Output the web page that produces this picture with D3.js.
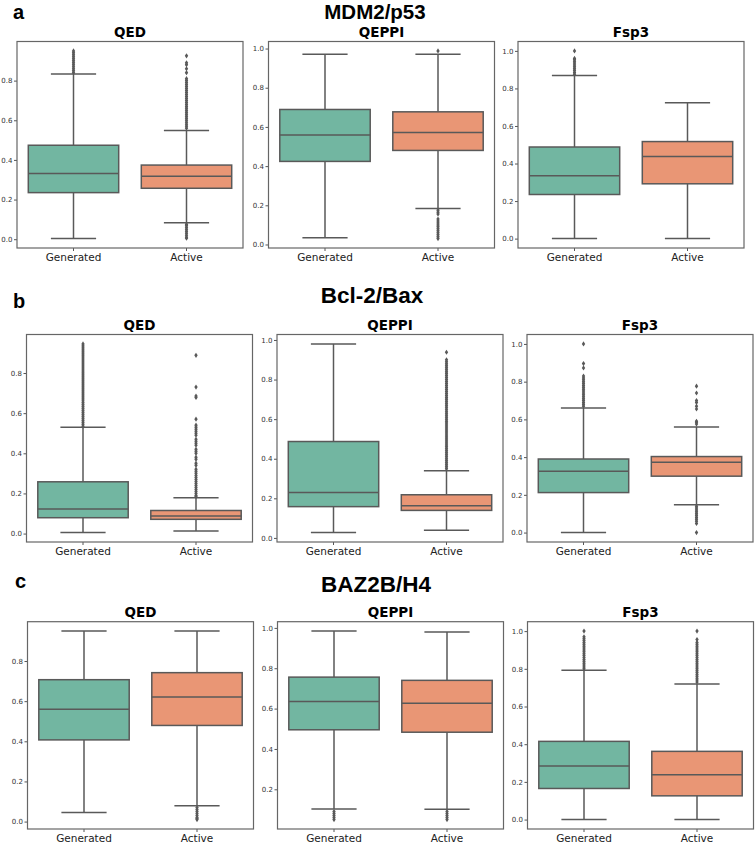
<!DOCTYPE html>
<html>
<head>
<meta charset="utf-8">
<script src="https://cdn.jsdelivr.net/npm/d3@7"></script>
<style>
  body { margin: 0; background: #fff; }
</style>
</head>
<body>
<div id="chart"></div>
<script>
// categories and panel names
const categories = ["Generated", "Active"];
const metrics = ["QED", "QEPPI", "Fsp3"];
const targets = ["MDM2/p53", "Bcl-2/Bax", "BAZ2B/H4"];
const letters = ["a", "b", "c"];

// box stats per metric: [whiskerLow, q1, median, q3, whiskerHigh] for Generated, Active
const mdm2Boxes = [
  [[0.003, 0.235, 0.332, 0.474, 0.833], [0.083, 0.257, 0.317, 0.374, 0.549]],
  [[0.034, 0.424, 0.559, 0.689, 0.971], [0.184, 0.480, 0.571, 0.677, 0.971]],
  [[0.0, 0.235, 0.335, 0.488, 0.869], [0.0, 0.292, 0.437, 0.517, 0.724]]
];
const bclBoxes = [
  [[0.005, 0.079, 0.123, 0.258, 0.530], [0.013, 0.071, 0.087, 0.115, 0.179]],
  [[0.027, 0.158, 0.229, 0.487, 0.980], [0.039, 0.139, 0.163, 0.218, 0.339]],
  [[0.0, 0.212, 0.325, 0.390, 0.661], [0.147, 0.299, 0.373, 0.403, 0.560]]
];
const bazBoxes = [
  [[0.045, 0.407, 0.560, 0.707, 0.949], [0.079, 0.479, 0.621, 0.742, 0.949]],
  [[0.103, 0.495, 0.635, 0.756, 0.984], [0.101, 0.483, 0.626, 0.740, 0.980]],
  [[0.0, 0.165, 0.284, 0.415, 0.793], [0.0, 0.126, 0.238, 0.362, 0.720]]
];

// outliers per metric: [Generated, Active]
const mdm2Outliers = [
  [[0.84, 0.85, 0.86, 0.87, 0.88, 0.89, 0.90, 0.91, 0.92, 0.93, 0.94, 0.95],
   [0.005, 0.01, 0.02, 0.03, 0.04, 0.05, 0.06, 0.07, 0.075,
    0.56, 0.57, 0.58, 0.59, 0.60, 0.61, 0.62, 0.63, 0.64, 0.65, 0.66, 0.67, 0.68,
    0.69, 0.70, 0.71, 0.72, 0.73, 0.74, 0.75, 0.76, 0.77, 0.78, 0.79, 0.80, 0.81,
    0.84, 0.86, 0.88, 0.89, 0.925]],
  [[],
   [0.03, 0.04, 0.05, 0.06, 0.07, 0.08, 0.09, 0.10, 0.11, 0.12, 0.13, 0.155, 0.165, 0.175, 0.988]],
  [[0.875, 0.885, 0.895, 0.905, 0.915, 0.925, 0.935, 0.945, 0.955, 0.96, 1.0],
   []]
];
const bclOutliers = [
  [[0.535, 0.545, 0.555, 0.565, 0.575, 0.585, 0.595, 0.605, 0.615, 0.625, 0.635, 0.645,
    0.655, 0.665, 0.675, 0.685, 0.695, 0.705, 0.715, 0.725, 0.735, 0.745, 0.755, 0.765,
    0.775, 0.785, 0.795, 0.805, 0.815, 0.825, 0.835, 0.845, 0.855, 0.865, 0.875, 0.885,
    0.895, 0.905, 0.915, 0.925, 0.935, 0.945],
   [0.185, 0.19, 0.20, 0.21, 0.22, 0.23, 0.24, 0.25, 0.26, 0.27, 0.28, 0.29, 0.30, 0.31,
    0.32, 0.34, 0.35, 0.37, 0.38, 0.40, 0.41, 0.42, 0.44, 0.45, 0.46, 0.47, 0.49, 0.50,
    0.51, 0.52, 0.53, 0.54, 0.57, 0.678, 0.685, 0.73, 0.888]],
  [[],
   [0.35, 0.36, 0.37, 0.38, 0.39, 0.40, 0.41, 0.42, 0.43, 0.44, 0.45, 0.46, 0.47, 0.48,
    0.49, 0.50, 0.51, 0.52, 0.53, 0.54, 0.55, 0.56, 0.57, 0.58, 0.59, 0.60, 0.61, 0.62,
    0.63, 0.64, 0.65, 0.66, 0.67, 0.68, 0.69, 0.70, 0.71, 0.72, 0.73, 0.74, 0.75, 0.76,
    0.77, 0.78, 0.79, 0.80, 0.81, 0.82, 0.83, 0.84, 0.85, 0.86, 0.87, 0.88, 0.89, 0.90, 0.938]],
  [[0.67, 0.68, 0.69, 0.70, 0.71, 0.72, 0.73, 0.74, 0.75, 0.76, 0.77, 0.78, 0.79, 0.80,
    0.81, 0.82, 0.83, 0.873, 0.896, 1.0],
   [0.0, 0.048, 0.06, 0.07, 0.08, 0.09, 0.10, 0.11, 0.12, 0.13, 0.14,
    0.575, 0.585, 0.59, 0.655, 0.67, 0.69, 0.70, 0.74, 0.776]]
];
const bazOutliers = [
  [[],
   [0.01, 0.015, 0.02, 0.03, 0.04, 0.05, 0.06, 0.07]],
  [[0.05, 0.06, 0.07, 0.08, 0.09],
   [0.05, 0.06, 0.07, 0.08, 0.09]],
  [[0.80, 0.81, 0.82, 0.83, 0.84, 0.85, 0.86, 0.87, 0.88, 0.89, 0.90, 0.91, 0.92, 0.93,
    0.94, 0.95, 0.96, 0.97, 1.0],
   [0.73, 0.74, 0.75, 0.76, 0.77, 0.78, 0.79, 0.80, 0.81, 0.82, 0.83, 0.84, 0.85, 0.86,
    0.87, 0.88, 0.89, 0.90, 0.91, 0.92, 0.93, 0.94, 0.955, 1.0]]
];

const allBoxes = [mdm2Boxes, bclBoxes, bazBoxes];
const allOutliers = [mdm2Outliers, bclOutliers, bazOutliers];

// layout
const width = 755, height = 843;
const panelW = 226;
const rows = [
  {left: [17, 268.5, 518], top: 41.5, bottom: 248, titleX: 375, titleY: 19, titleSize: 20.5, letterX: 13, letterY: 18.5},
  {left: [26.5, 277, 527], top: 334.5, bottom: 542, titleX: 372, titleY: 303.3, titleSize: 22.5, letterX: 13, letterY: 308.3},
  {left: [27.5, 277.5, 527.5], top: 621.7, bottom: 829, titleX: 376, titleY: 591.7, titleSize: 22.5, letterX: 15, letterY: 588.3}
];
const colors = ["#72b6a1", "#e99675"];
const gray = "#595959";

const svg = d3.select("#chart")
  .append("svg")
    .attr("width", width)
    .attr("height", height);

targets.forEach(function(target, r) {
  const lay = rows[r];
  const h = lay.bottom - lay.top;

  // panel letter
  svg.append("text")
    .attr("x", lay.letterX)
    .attr("y", lay.letterY)
    .style("font-family", "Liberation Sans, Arial, sans-serif")
    .style("font-weight", "bold")
    .style("font-size", "20px")
    .text(letters[r]);

  // target title
  svg.append("text")
    .attr("x", lay.titleX)
    .attr("y", lay.titleY)
    .attr("text-anchor", "middle")
    .style("font-family", "Liberation Sans, Arial, sans-serif")
    .style("font-weight", "bold")
    .style("font-size", lay.titleSize + "px")
    .text(target);

  metrics.forEach(function(metric, c) {
    const boxes = allBoxes[r][c];
    const outs = allOutliers[r][c];
    const g = svg.append("g")
      .attr("transform", `translate(${lay.left[c]},${lay.top})`);

    const vals = boxes.flat().concat(outs.flat());
    const lo = d3.min(vals), hi = d3.max(vals), pad = (hi - lo) * 0.05;

    const x = d3.scaleBand()
      .domain(categories)
      .range([0, panelW]);
    const y = d3.scaleLinear()
      .domain([lo - pad, hi + pad])
      .range([h, 0]);

    const bw = x.bandwidth() * 0.8;

    // x axis
    const xa = g.append("g")
      .attr("transform", `translate(0,${h})`)
      .call(d3.axisBottom(x).tickSize(3).tickPadding(2.5));
    xa.select(".domain").remove();
    xa.selectAll("line").attr("stroke", "#555");
    xa.selectAll("text")
      .style("font-family", "DejaVu Sans, sans-serif")
      .style("font-size", "10.5px")
      .attr("fill", "#222");

    // y axis
    const ya = g.append("g")
      .call(d3.axisLeft(y).ticks(5).tickFormat(d3.format(".1f")).tickSize(3).tickPadding(1.5));
    ya.select(".domain").remove();
    ya.selectAll("line").attr("stroke", "#555");
    ya.selectAll("text")
      .style("font-family", "DejaVu Sans, sans-serif")
      .style("font-size", "7px")
      .attr("fill", "#333");

    // boxes
    categories.forEach(function(cat, k) {
      const s = boxes[k];
      const cx = x(cat) + x.bandwidth() / 2;

      // whiskers
      g.append("line")
        .attr("x1", cx).attr("x2", cx)
        .attr("y1", y(s[0])).attr("y2", y(s[1]))
        .attr("stroke", gray).attr("stroke-width", 1.5);
      g.append("line")
        .attr("x1", cx).attr("x2", cx)
        .attr("y1", y(s[3])).attr("y2", y(s[4]))
        .attr("stroke", gray).attr("stroke-width", 1.5);
      // caps
      [s[0], s[4]].forEach(function(v) {
        g.append("line")
          .attr("x1", cx - bw / 4).attr("x2", cx + bw / 4)
          .attr("y1", y(v)).attr("y2", y(v))
          .attr("stroke", gray).attr("stroke-width", 1.5);
      });
      // box
      g.append("rect")
        .attr("x", cx - bw / 2)
        .attr("y", y(s[3]))
        .attr("width", bw)
        .attr("height", y(s[1]) - y(s[3]))
        .attr("fill", colors[k])
        .attr("stroke", gray)
        .attr("stroke-width", 1.5);
      // median
      g.append("line")
        .attr("x1", cx - bw / 2).attr("x2", cx + bw / 2)
        .attr("y1", y(s[2])).attr("y2", y(s[2]))
        .attr("stroke", gray).attr("stroke-width", 1.5);

      // outliers (thin diamonds)
      g.selectAll(null)
        .data(outs[k])
        .enter().append("path")
        .attr("d", "M0,-2.6L1.7,0L0,2.6L-1.7,0Z")
        .attr("transform", function(d) { return `translate(${cx},${y(d)})`; })
        .attr("fill", gray);
    });

    // frame
    g.append("rect")
      .attr("width", panelW)
      .attr("height", h)
      .attr("fill", "none")
      .attr("stroke", "#666")
      .attr("stroke-width", 1.2);

    // panel title
    g.append("text")
      .attr("x", panelW / 2)
      .attr("y", -4.5)
      .attr("text-anchor", "middle")
      .style("font-family", "DejaVu Sans, sans-serif")
      .style("font-weight", "bold")
      .style("font-size", "13.5px")
      .text(metric);
  });
});
</script>
</body>
</html>
